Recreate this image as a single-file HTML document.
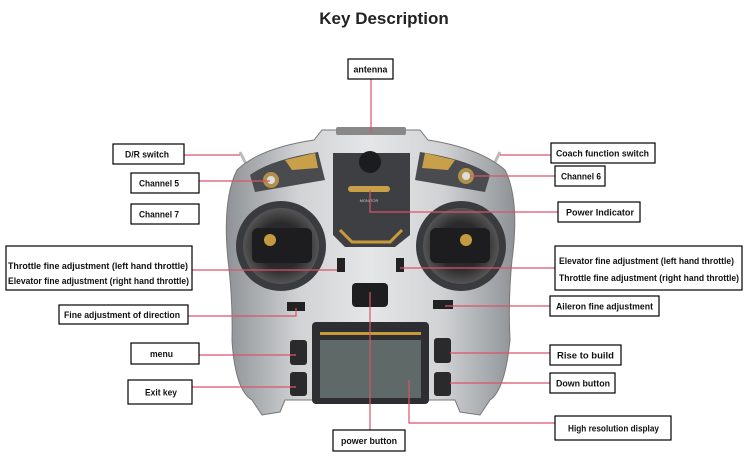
<!DOCTYPE html>
<html><head><style>
html,body{margin:0;padding:0;background:#fff;}
svg{display:block;}
text{font-family:"Liberation Sans",sans-serif;}
.b{fill:#fff;stroke:#000;stroke-width:1.2;}
.l{font-size:8.8px;font-weight:bold;fill:#111;}
.r{stroke:#d9536a;stroke-width:1.2;fill:none;}
</style></head><body>
<svg width="750" height="461" viewBox="0 0 750 461">
<defs>
<linearGradient id="g1" x1="0" y1="0" x2="1" y2="0">
<stop offset="0" stop-color="#8e9296"/><stop offset="0.25" stop-color="#d0d2d4"/><stop offset="0.5" stop-color="#e4e6e7"/><stop offset="0.75" stop-color="#d0d2d4"/><stop offset="1" stop-color="#8e9296"/></linearGradient>
<radialGradient id="st" cx="0.5" cy="0.5" r="0.5"><stop offset="0.6" stop-color="#2a2a2c"/><stop offset="1" stop-color="#555"/></radialGradient>
</defs>
<text x="384" y="24" text-anchor="middle" font-size="17" font-weight="bold" fill="#222">Key Description</text>
<path d="M240 152 L248 168" stroke="#bbb" stroke-width="3"/>
<path d="M500 152 L492 168" stroke="#bbb" stroke-width="3"/>
<path d="M322 130 L420 130 L428 140 Q480 148 505 170 Q520 200 512 260 Q508 300 510 340 Q505 390 490 400 L480 415 L460 412 L455 400 L285 400 L280 412 L262 415 L252 400 Q235 390 232 340 Q233 300 228 260 Q222 200 237 170 Q260 148 314 140 Z" fill="url(#g1)" stroke="#777"/>
<rect x="336" y="127" width="70" height="8" rx="2" fill="#888"/>
<path d="M250 175 Q270 160 318 152 L325 180 L255 192 Z" fill="#4a4b4e"/>
<path d="M420 152 Q470 160 490 175 L485 192 L415 180 Z" fill="#4a4b4e"/>
<path d="M285 160 L315 153 L318 168 L292 170 Z" fill="#c9a04a"/>
<path d="M425 153 L455 160 L448 170 L422 168 Z" fill="#c9a04a"/>
<circle cx="271" cy="180" r="8" fill="#b08f4a"/><circle cx="271" cy="180" r="4" fill="#ddd"/>
<circle cx="466" cy="176" r="8" fill="#b08f4a"/><circle cx="466" cy="176" r="4" fill="#ddd"/>
<path d="M333 153 L410 153 L410 235 L395 247 L345 247 L333 235 Z" fill="#3e3f42"/>
<path d="M340 230 L352 242 L390 242 L402 230" stroke="#c89a3a" stroke-width="3" fill="none"/>
<circle cx="370" cy="162" r="11" fill="#1c1c1e"/>
<rect x="348" y="186" width="42" height="6" rx="3" fill="#c9a04a"/>
<text x="369" y="202" text-anchor="middle" font-size="4" fill="#ccc">MONITOR</text>
<circle cx="281" cy="246" r="45" fill="#3a3b3e"/>
<circle cx="281" cy="246" r="38" fill="url(#st)"/>
<rect x="252" y="228" width="60" height="35" rx="6" fill="#1d1d1f"/>
<circle cx="270" cy="240" r="6" fill="#c49a40"/>
<circle cx="461" cy="246" r="45" fill="#3a3b3e"/>
<circle cx="461" cy="246" r="38" fill="url(#st)"/>
<rect x="430" y="228" width="60" height="35" rx="6" fill="#1d1d1f"/>
<circle cx="466" cy="240" r="6" fill="#c49a40"/>
<rect x="337" y="258" width="8" height="14" fill="#222"/>
<rect x="396" y="258" width="8" height="14" fill="#222"/>
<rect x="352" y="283" width="36" height="24" rx="4" fill="#1e1e20"/>
<rect x="287" y="302" width="18" height="9" fill="#222"/>
<rect x="433" y="300" width="20" height="9" fill="#222"/>
<rect x="312" y="322" width="117" height="82" rx="4" fill="#2d2e31"/>
<rect x="320" y="332" width="101" height="3" fill="#c89a3a"/>
<rect x="320" y="340" width="101" height="58" fill="#5f6968"/>
<rect x="290" y="340" width="17" height="25" rx="3" fill="#2a2a2c"/>
<rect x="290" y="372" width="17" height="24" rx="3" fill="#2a2a2c"/>
<rect x="434" y="338" width="17" height="25" rx="3" fill="#2a2a2c"/>
<rect x="434" y="372" width="17" height="24" rx="3" fill="#2a2a2c"/>
<path class="r" d="M371 79 V133"/>
<path class="r" d="M184 155 H240"/>
<path class="r" d="M199 181 H270"/>
<path class="r" d="M192 270 H337"/>
<path class="r" d="M188 316 H296 V308"/>
<path class="r" d="M199 355 H296"/>
<path class="r" d="M192 387 H296"/>
<path class="r" d="M370 440 V292"/>
<path class="r" d="M500 155 H551"/>
<path class="r" d="M470 176 H555"/>
<path class="r" d="M370 190 V212 H558"/>
<path class="r" d="M400 268 H555"/>
<path class="r" d="M445 306 H550"/>
<path class="r" d="M450 353 H550"/>
<path class="r" d="M450 383 H550"/>
<path class="r" d="M409 380 V423 H555"/>
<rect class="b" x="348" y="59" width="45" height="20"/><text class="l" x="370.5" y="72.5" text-anchor="middle" textLength="34" lengthAdjust="spacingAndGlyphs">antenna</text>
<rect class="b" x="113" y="144" width="71" height="20"/><text class="l" x="125" y="157.5" textLength="44" lengthAdjust="spacingAndGlyphs">D/R switch</text>
<rect class="b" x="131" y="173" width="68" height="20"/><text class="l" x="139" y="186.5" textLength="40" lengthAdjust="spacingAndGlyphs">Channel 5</text>
<rect class="b" x="131" y="204" width="68" height="20"/><text class="l" x="139" y="217.5" textLength="40" lengthAdjust="spacingAndGlyphs">Channel 7</text>
<rect class="b" x="6" y="246" width="186" height="44"/><text class="l" x="8" y="269" textLength="180" lengthAdjust="spacingAndGlyphs">Throttle fine adjustment (left hand throttle)</text><text class="l" x="8" y="284" textLength="181" lengthAdjust="spacingAndGlyphs">Elevator fine adjustment (right hand throttle)</text>
<rect class="b" x="59" y="305" width="129" height="19"/><text class="l" x="64" y="318" textLength="116" lengthAdjust="spacingAndGlyphs">Fine adjustment of direction</text>
<rect class="b" x="131" y="343" width="68" height="21"/><text class="l" x="150" y="357" textLength="23" lengthAdjust="spacingAndGlyphs">menu</text>
<rect class="b" x="128" y="380" width="64" height="24"/><text class="l" x="145" y="395.5" textLength="32" lengthAdjust="spacingAndGlyphs">Exit key</text>
<rect class="b" x="333" y="430" width="72" height="21"/><text class="l" x="341" y="444" textLength="56" lengthAdjust="spacingAndGlyphs">power button</text>
<rect class="b" x="551" y="143" width="104" height="20"/><text class="l" x="556" y="156.5" textLength="93" lengthAdjust="spacingAndGlyphs">Coach function switch</text>
<rect class="b" x="555" y="166" width="50" height="20"/><text class="l" x="561" y="179.5" textLength="40" lengthAdjust="spacingAndGlyphs">Channel 6</text>
<rect class="b" x="558" y="202" width="82" height="20"/><text class="l" x="566" y="215.5" textLength="68" lengthAdjust="spacingAndGlyphs">Power Indicator</text>
<rect class="b" x="555" y="246" width="187" height="44"/><text class="l" x="559" y="264" textLength="175" lengthAdjust="spacingAndGlyphs">Elevator fine adjustment (left hand throttle)</text><text class="l" x="559" y="281" textLength="180" lengthAdjust="spacingAndGlyphs">Throttle fine adjustment (right hand throttle)</text>
<rect class="b" x="550" y="296" width="109" height="20"/><text class="l" x="556" y="309.5" textLength="97" lengthAdjust="spacingAndGlyphs">Aileron fine adjustment</text>
<rect class="b" x="550" y="345" width="71" height="20"/><text class="l" x="557" y="358.5" textLength="57" lengthAdjust="spacingAndGlyphs">Rise to build</text>
<rect class="b" x="550" y="373" width="65" height="20"/><text class="l" x="556" y="386.5" textLength="54" lengthAdjust="spacingAndGlyphs">Down button</text>
<rect class="b" x="555" y="416" width="116" height="24"/><text class="l" x="568" y="431.5" textLength="91" lengthAdjust="spacingAndGlyphs">High resolution display</text>
</svg>
</body></html>
